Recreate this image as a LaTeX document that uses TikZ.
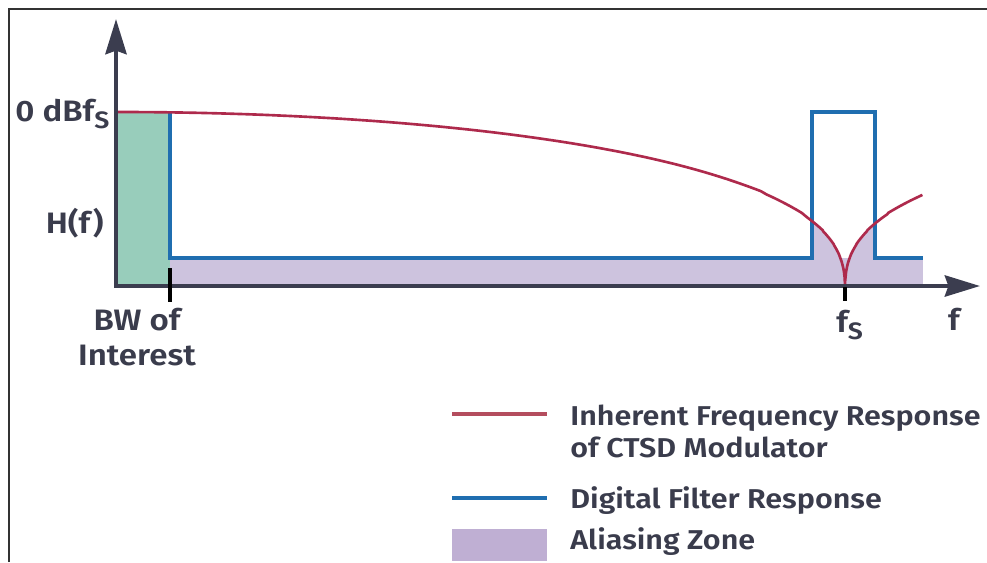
\documentclass[tikz,border=0pt]{standalone}
\usepackage{fontspec}
\setmainfont{Fira Sans}[UprightFont=* SemiBold, BoldFont=* Bold, FakeStretch=1.12]
\usetikzlibrary{arrows.meta}
\definecolor{axisc}{HTML}{3B3D4F}
\definecolor{redc}{HTML}{AE2A4C}
\definecolor{legred}{HTML}{B44D5E}
\definecolor{bluec}{HTML}{1F6EB0}
\definecolor{greenc}{HTML}{98CDBB}
\definecolor{zonec}{HTML}{CDC3DE}
\definecolor{legzone}{HTML}{BFAFD3}
\definecolor{textc}{HTML}{3A3C4C}
\definecolor{framec}{HTML}{333333}
\tikzset{
  declare function={dd(\t)=174*tanh(-0.2414*ln(sin(180*\t)/(pi*\t)));},
  axisline/.style={axisc, line width=2.4pt, line join=miter, {Stealth[length=20pt,width=12pt,inset=2pt]}-{Stealth[length=20pt,width=12pt,inset=2pt]}},
  redline/.style={redc, line width=1.5pt},
  blueline/.style={bluec, line width=2.4pt, line join=miter},
  tickline/.style={black, line width=2.3pt},
  lbl/.style={textc, font=\fontsize{16.8}{19}\selectfont, inner sep=0pt},
  leg/.style={textc, font=\fontsize{15.5}{18}\selectfont, inner sep=0pt},
}
\begin{document}
\begin{tikzpicture}[x=0.02cm, y=-0.02cm]
\useasboundingbox (0,0) rectangle (987,562);
% frame
\draw[framec, line width=1.1pt] (9,562) -- (9,9) -- (987,9);
% fills
\fill[greenc] (116,112) rectangle (170,286);
\fill[zonec] (170,258) rectangle (923,286);
\begin{scope}
  \clip (812,150) rectangle (875,286);
  \fill[zonec] (805,290) -- plot[domain=0.95:0.9999, samples=60] ({116+729*\x},{112+dd(\x)}) -- (845,286)
     -- plot[domain=0.9999:0.95, samples=60] ({1574-729*\x},{112+dd(\x)}) -- (882,290) -- cycle;
\end{scope}
% digital filter response
\draw[blueline] (170,112) -- (170,258) -- (812,258) -- (812,112) -- (875,112) -- (875,258) -- (923,258);
% inherent response
\draw[redline] plot[domain=0.0005:0.95, samples=120] ({116+729*\x},{112+dd(\x)})
   -- plot[domain=0.95:0.9999, samples=60] ({116+729*\x},{112+dd(\x)}) -- (845,286)
   -- plot[domain=0.9999:0.893, samples=80] ({1574-729*\x},{112+dd(\x)});
% axes
\coordinate (ytip) at (116,19);
\coordinate (orig) at (116,286);
\coordinate (xtip) at (980,286);
\draw[axisline] (ytip) -- (orig) -- (xtip);
% ticks
\coordinate (bwt1) at (170,268);
\coordinate (bwt2) at (170,302);
\coordinate (fst1) at (845,287);
\coordinate (fst2) at (845,301);
\draw[tickline] (bwt1) -- (bwt2);
\draw[tickline] (fst1) -- (fst2);
% labels
\node[lbl, anchor=base west] (zero) at (15,121) {0 dBf\raisebox{-0.45ex}{\fontsize{13.5}{14}\selectfont S}};
\node[lbl, anchor=base east] (hf) at (104,233) {H(f)};
\node[lbl, anchor=base] (bw1) at (137,330) {BW of};
\node[lbl, anchor=base] (bw2) at (137,365) {Interest};
\node[lbl, anchor=base west] (fs) at (836,332) {f\raisebox{-0.45ex}{\fontsize{13.5}{14}\selectfont S}};
\node[lbl, anchor=base] (f) at (954,330) {f};
% legend
\coordinate (lr1) at (452,414);
\coordinate (lr2) at (547,414);
\coordinate (lb1) at (452,498);
\coordinate (lb2) at (547,498);
\draw[legred, line width=2.6pt] (lr1) -- (lr2);
\draw[bluec, line width=2.6pt] (lb1) -- (lb2);
\fill[legzone] (452,529) rectangle (547,561);
\node[leg, anchor=base west] (l1) at (570,425) {Inherent Frequency Response};
\node[leg, anchor=base west] (l2) at (570,457) {of CTSD Modulator};
\node[leg, anchor=base west] (l3) at (570,508) {Digital Filter Response};
\node[leg, anchor=base west] (l4) at (570,549) {Aliasing Zone};
\end{tikzpicture}
\end{document}
